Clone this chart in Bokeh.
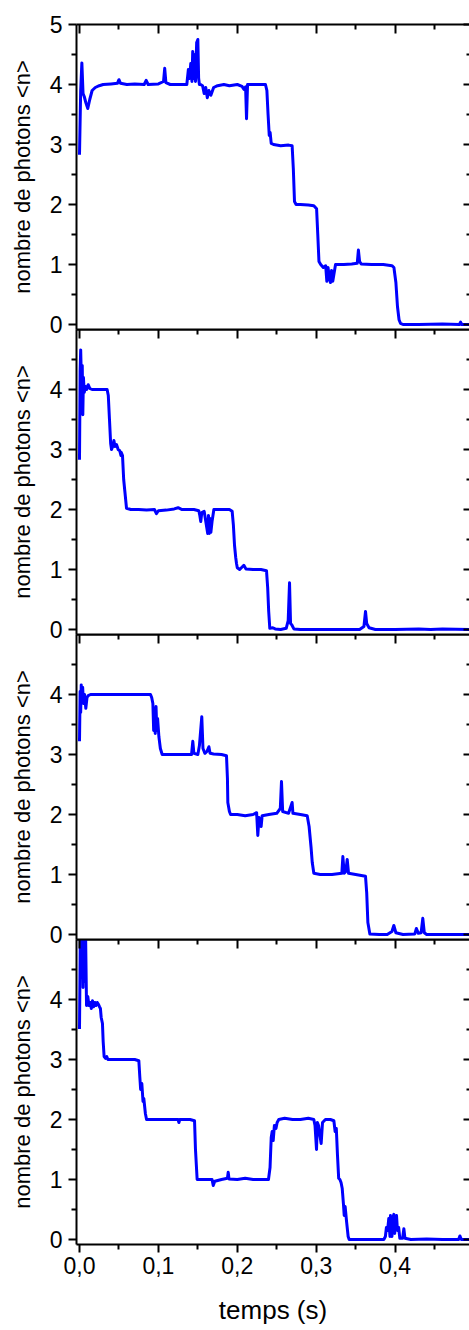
from bokeh.plotting import figure
from bokeh.layouts import column
from bokeh.models import Range1d, LinearAxis, FixedTicker, CustomJSTickFormatter
from bokeh.embed import file_html
from bokeh.resources import INLINE

# ---------------- data (time in s, mean photon number) ----------------
trace1 = [(0.0, 2.83), (0.0015, 3.9), (0.003, 4.36), (0.0045, 3.85), (0.006, 3.8), (0.008, 3.7),
          (0.0105, 3.6), (0.013, 3.75), (0.016, 3.9), (0.020, 3.95), (0.025, 3.98), (0.030, 4.0),
          (0.040, 4.01), (0.048, 4.02), (0.050, 4.08), (0.052, 4.02), (0.060, 4.0), (0.070, 4.01),
          (0.082, 4.0), (0.0845, 4.07), (0.087, 4.0), (0.100, 4.01), (0.1065, 4.05), (0.108, 4.27),
          (0.1095, 4.03), (0.115, 4.0), (0.125, 4.0), (0.136, 4.0), (0.138, 4.25), (0.1395, 4.1),
          (0.141, 4.35), (0.1425, 4.05), (0.1435, 4.55), (0.1445, 4.1), (0.1455, 4.5), (0.147, 4.05),
          (0.1485, 4.7), (0.150, 4.75), (0.151, 4.1), (0.152, 4.0), (0.1535, 4.0), (0.156, 3.98),
          (0.158, 3.85), (0.160, 3.95), (0.162, 3.78), (0.164, 3.9), (0.1665, 3.82), (0.170, 3.95),
          (0.175, 3.98), (0.183, 4.0), (0.190, 3.98), (0.200, 4.0), (0.206, 3.97), (0.2085, 3.92),
          (0.2105, 3.96), (0.2117, 3.43), (0.213, 4.0), (0.220, 4.0), (0.230, 4.0), (0.2357, 4.0),
          (0.2375, 3.9), (0.239, 3.5), (0.2405, 3.15), (0.2416, 3.2), (0.243, 3.02), (0.246, 3.0),
          (0.255, 2.98), (0.265, 2.99), (0.2695, 2.98), (0.271, 2.6), (0.2725, 2.05), (0.2745, 2.0),
          (0.280, 2.0), (0.290, 1.99), (0.297, 1.98), (0.3005, 1.93), (0.302, 1.5), (0.3035, 1.05),
          (0.3057, 1.0), (0.309, 0.95), (0.312, 0.98), (0.3135, 0.72), (0.315, 0.95), (0.3165, 0.8),
          (0.318, 0.7), (0.3195, 0.9), (0.321, 0.72), (0.3245, 1.0), (0.335, 1.0), (0.345, 1.01),
          (0.352, 1.02), (0.3535, 1.24), (0.355, 1.05), (0.357, 1.01), (0.370, 1.0), (0.385, 1.0),
          (0.396, 0.98), (0.3985, 0.95), (0.401, 0.7), (0.403, 0.3), (0.405, 0.08), (0.4068, 0.02),
          (0.410, 0.0), (0.430, 0.0), (0.460, 0.01), (0.4815, 0.0), (0.483, 0.04), (0.4845, 0.0),
          (0.494, 0.0)]

trace2 = [(0.0, 2.83), (0.0008, 4.3), (0.0015, 4.66), (0.0025, 4.1), (0.0035, 4.4), (0.0042, 3.58),
          (0.005, 4.2), (0.006, 3.95), (0.0075, 4.05), (0.009, 4.0), (0.011, 4.08), (0.013, 4.02),
          (0.016, 4.0), (0.025, 4.0), (0.035, 4.0), (0.0365, 3.9), (0.038, 3.5), (0.0395, 3.1),
          (0.0406, 3.0), (0.042, 3.05), (0.0436, 3.15), (0.045, 3.05), (0.047, 3.08), (0.049, 3.0),
          (0.051, 2.98), (0.0525, 2.9), (0.053, 2.95), (0.0545, 2.9), (0.056, 2.5), (0.0575, 2.3),
          (0.0596, 2.02), (0.065, 2.0), (0.075, 2.0), (0.085, 1.99), (0.095, 2.0), (0.0975, 1.93),
          (0.100, 1.98), (0.110, 1.99), (0.120, 2.01), (0.125, 2.03), (0.130, 2.0), (0.145, 2.0),
          (0.1512, 1.98), (0.1525, 1.9), (0.1537, 1.8), (0.155, 1.95), (0.158, 1.97), (0.1625, 1.6),
          (0.1635, 1.9), (0.1645, 1.6), (0.1655, 1.85), (0.1665, 1.62), (0.168, 1.8), (0.1703, 2.0),
          (0.180, 2.0), (0.190, 2.0), (0.1935, 1.97), (0.195, 1.75), (0.1965, 1.4), (0.198, 1.2),
          (0.199, 1.1), (0.200, 1.03), (0.203, 1.0), (0.2083, 1.07), (0.211, 1.01), (0.220, 1.0),
          (0.230, 1.0), (0.237, 0.98), (0.2385, 0.7), (0.2398, 0.3), (0.2412, 0.02), (0.245, 0.03),
          (0.248, 0.01), (0.255, 0.0), (0.262, 0.02), (0.2645, 0.15), (0.2662, 0.78), (0.2675, 0.1),
          (0.269, 0.08), (0.2717, 0.01), (0.280, 0.0), (0.300, 0.0), (0.330, 0.0), (0.355, 0.0),
          (0.3605, 0.05), (0.3625, 0.3), (0.364, 0.1), (0.367, 0.03), (0.375, 0.0), (0.400, 0.0),
          (0.430, 0.01), (0.445, 0.0), (0.460, 0.01), (0.494, 0.0)]

trace3 = [(0.0, 3.22), (0.0008, 4.05), (0.0015, 3.7), (0.0022, 4.16), (0.003, 3.9), (0.004, 4.12),
          (0.005, 3.85), (0.0065, 4.0), (0.008, 3.77), (0.0095, 3.95), (0.011, 3.98), (0.014, 4.0),
          (0.030, 4.0), (0.050, 4.0), (0.070, 4.0), (0.090, 4.0), (0.0915, 3.95), (0.093, 3.85),
          (0.094, 3.4), (0.095, 3.75), (0.096, 3.35), (0.097, 3.8), (0.098, 3.4), (0.099, 3.6),
          (0.1006, 3.3), (0.1025, 3.1), (0.1048, 3.0), (0.115, 3.0), (0.130, 3.0), (0.142, 3.0),
          (0.1436, 3.22), (0.145, 3.02), (0.150, 3.0), (0.152, 3.15), (0.155, 3.63), (0.1565, 3.1),
          (0.159, 3.02), (0.1615, 3.05), (0.164, 3.13), (0.1655, 3.02), (0.170, 3.01), (0.180, 3.0),
          (0.1863, 2.98), (0.1875, 2.6), (0.188, 2.2), (0.190, 2.05), (0.1915, 2.0), (0.200, 2.0),
          (0.210, 1.98), (0.220, 2.0), (0.2245, 2.03), (0.226, 1.65), (0.2275, 1.95), (0.2302, 1.8),
          (0.2315, 1.98), (0.240, 2.0), (0.250, 2.02), (0.2545, 2.1), (0.256, 2.55), (0.2575, 2.05),
          (0.265, 2.02), (0.2695, 2.2), (0.2705, 2.02), (0.280, 2.0), (0.2886, 1.98), (0.291, 1.8),
          (0.2935, 1.45), (0.295, 1.2), (0.297, 1.02), (0.305, 1.0), (0.320, 1.0), (0.3325, 1.02),
          (0.3338, 1.3), (0.3355, 1.02), (0.3375, 1.05), (0.3393, 1.25), (0.341, 1.02), (0.350, 1.0),
          (0.3625, 0.97), (0.364, 0.7), (0.3655, 0.2), (0.368, 0.01), (0.380, 0.0), (0.390, 0.0),
          (0.396, 0.05), (0.3984, 0.15), (0.401, 0.03), (0.410, 0.0), (0.425, 0.01), (0.427, 0.1),
          (0.4295, 0.02), (0.433, 0.03), (0.4351, 0.27), (0.437, 0.03), (0.440, 0.0), (0.494, 0.0)]

trace4 = [(0.0, 3.51), (0.0012, 5.3), (0.0023, 4.5), (0.0035, 5.6), (0.0045, 4.2), (0.0055, 5.5),
          (0.0068, 4.3), (0.0076, 5.2), (0.0089, 3.9), (0.0105, 4.05), (0.012, 3.9), (0.0135, 3.95),
          (0.015, 3.85), (0.0165, 3.98), (0.018, 3.88), (0.0195, 3.95), (0.021, 3.9), (0.0225, 3.95),
          (0.024, 3.92), (0.0253, 3.88), (0.0265, 3.85), (0.0275, 3.7), (0.0291, 3.6), (0.030, 3.3),
          (0.0312, 3.05), (0.033, 3.02), (0.0345, 3.05), (0.036, 3.0), (0.0418, 3.0), (0.055, 3.0),
          (0.070, 3.0), (0.0752, 2.98), (0.0765, 2.7), (0.0775, 2.5), (0.079, 2.6), (0.0805, 2.3),
          (0.0815, 2.35), (0.0835, 2.1), (0.085, 2.0), (0.100, 2.0), (0.115, 2.0), (0.125, 2.0),
          (0.126, 1.95), (0.127, 2.0), (0.140, 2.0), (0.1458, 1.98), (0.147, 1.5), (0.1491, 1.0),
          (0.160, 1.0), (0.168, 1.0), (0.1695, 0.9), (0.1715, 0.97), (0.180, 1.0), (0.1875, 1.02),
          (0.1885, 1.12), (0.1895, 1.01), (0.200, 1.0), (0.210, 1.02), (0.220, 1.0), (0.230, 1.0),
          (0.2395, 1.0), (0.2415, 1.2), (0.243, 1.7), (0.2442, 1.8), (0.2455, 1.65), (0.247, 1.9),
          (0.249, 1.85), (0.2505, 1.95), (0.2526, 2.0), (0.260, 2.02), (0.270, 2.0), (0.280, 2.0),
          (0.290, 2.02), (0.297, 2.0), (0.2985, 1.9), (0.3004, 1.5), (0.3015, 1.95), (0.303, 1.9),
          (0.3045, 1.75), (0.3063, 1.6), (0.308, 1.95), (0.3117, 2.0), (0.318, 2.0), (0.3224, 1.98),
          (0.324, 1.8), (0.3255, 1.85), (0.327, 1.4), (0.3285, 1.02), (0.330, 1.0), (0.3315, 0.95),
          (0.333, 0.85), (0.3345, 0.6), (0.3355, 0.4), (0.3367, 0.55), (0.3385, 0.3), (0.3405, 0.05),
          (0.3418, 0.0), (0.360, 0.0), (0.375, 0.0), (0.3857, 0.0), (0.3877, 0.05), (0.389, 0.2),
          (0.3905, 0.15), (0.392, 0.35), (0.3935, 0.05), (0.3941, 0.4), (0.396, 0.05), (0.3975, 0.38),
          (0.3984, 0.42), (0.3995, 0.1), (0.4005, 0.35), (0.4018, 0.4), (0.403, 0.15), (0.4045, 0.2),
          (0.406, 0.02), (0.4095, 0.02), (0.4111, 0.18), (0.4125, 0.02), (0.420, 0.0), (0.440, 0.01),
          (0.460, 0.0), (0.4805, 0.0), (0.4821, 0.06), (0.484, 0.0), (0.494, 0.0)]

x_major = [0.0, 0.1, 0.2, 0.3, 0.4, 0.5]
x_minor = [0.05, 0.15, 0.25, 0.35, 0.45]
y_major_top = [0, 1, 2, 3, 4, 5]
y_major = [0, 1, 2, 3, 4]
y_minor = [0.5, 1.5, 2.5, 3.5, 4.5]
y_label = "nombre de photons <n>"
x_label = "temps (s)"

FONT = "Liberation Sans"
BLUE = "#0000ff"
OVERLAP = 14


def hide_labels(ax):
    ax.formatter = CustomJSTickFormatter(code="return '';")
    ax.major_label_text_font_size = "1px"
    ax.major_label_standoff = 0
    ax.axis_label = None


def make_panel(trace, yticks, first, last):
    t = [pt[0] for pt in trace]
    n = [pt[1] for pt in trace]
    p = figure(width=469, frame_height=305,
               x_range=Range1d(-0.0038, 0.4943), y_range=Range1d(-0.083, 5.0),
               output_backend="svg", toolbar_location=None,
               x_axis_location=None, y_axis_location=None,
               min_border_left=76, min_border_right=0,
               min_border_top=24 if first else 0,
               min_border_bottom=0 if last else OVERLAP,
               margin=(0, 0, 0 if last else -OVERLAP, 0))
    p.grid.visible = False
    p.outline_line_color = None
    p.background_fill_color = None
    p.border_fill_color = None

    # left axis
    la = LinearAxis(ticker=FixedTicker(ticks=yticks, minor_ticks=y_minor), axis_label=y_label)
    la.axis_line_width = 2
    la.major_tick_line_width = 2
    la.minor_tick_line_width = 2
    la.major_tick_out = 8
    la.major_tick_in = 0
    la.minor_tick_out = 5
    la.minor_tick_in = 0
    la.major_label_text_font = FONT
    la.major_label_text_font_size = "23px"
    la.major_label_text_color = "black"
    la.major_label_standoff = 6
    la.axis_label_text_font = FONT
    la.axis_label_text_font_size = "22px"
    la.axis_label_text_font_style = "normal"
    la.axis_label_text_color = "black"
    la.axis_label_standoff = 12
    p.add_layout(la, "left")

    # top axis (ticks inside)
    ta = LinearAxis(ticker=FixedTicker(ticks=x_major, minor_ticks=x_minor))
    ta.axis_line_width = 2
    ta.major_tick_line_width = 2
    ta.minor_tick_line_width = 2
    ta.major_tick_in = 9
    ta.major_tick_out = 0
    ta.minor_tick_in = 5
    ta.minor_tick_out = 0
    hide_labels(ta)
    p.add_layout(ta, "above")

    # right axis (ticks inside, no line)
    ra = LinearAxis(ticker=FixedTicker(ticks=yticks, minor_ticks=y_minor))
    ra.axis_line_color = None
    ra.major_tick_line_width = 2
    ra.minor_tick_line_width = 2
    ra.major_tick_in = 6
    ra.major_tick_out = 0
    ra.minor_tick_in = 3
    ra.minor_tick_out = 0
    hide_labels(ra)
    p.add_layout(ra, "right")

    # bottom axis
    ba = LinearAxis(ticker=FixedTicker(ticks=x_major, minor_ticks=x_minor))
    ba.axis_line_width = 2
    if last:
        ba.major_tick_line_width = 2
        ba.minor_tick_line_width = 2
        ba.major_tick_out = 8
        ba.major_tick_in = 0
        ba.minor_tick_out = 5
        ba.minor_tick_in = 0
        ba.formatter = CustomJSTickFormatter(code="return tick.toFixed(1).replace('.', ',');")
        ba.major_label_text_font = FONT
        ba.major_label_text_font_size = "23px"
        ba.major_label_text_color = "black"
        ba.major_label_standoff = 4
        ba.axis_label = x_label
        ba.axis_label_text_font = FONT
        ba.axis_label_text_font_size = "26px"
        ba.axis_label_text_font_style = "normal"
        ba.axis_label_text_color = "black"
        ba.axis_label_standoff = 18
    else:
        ba.major_tick_out = 0
        ba.major_tick_in = 0
        ba.minor_tick_out = 0
        ba.minor_tick_in = 0
        hide_labels(ba)
    p.add_layout(ba, "below")

    p.line(t, n, line_color=BLUE, line_width=3, line_join="round")
    return p


panels = [
    make_panel(trace1, y_major_top, True, False),
    make_panel(trace2, y_major, False, False),
    make_panel(trace3, y_major, False, False),
    make_panel(trace4, y_major, False, True),
]

layout = column(*panels, spacing=0)
open("out.html", "w").write(file_html(layout, INLINE))
